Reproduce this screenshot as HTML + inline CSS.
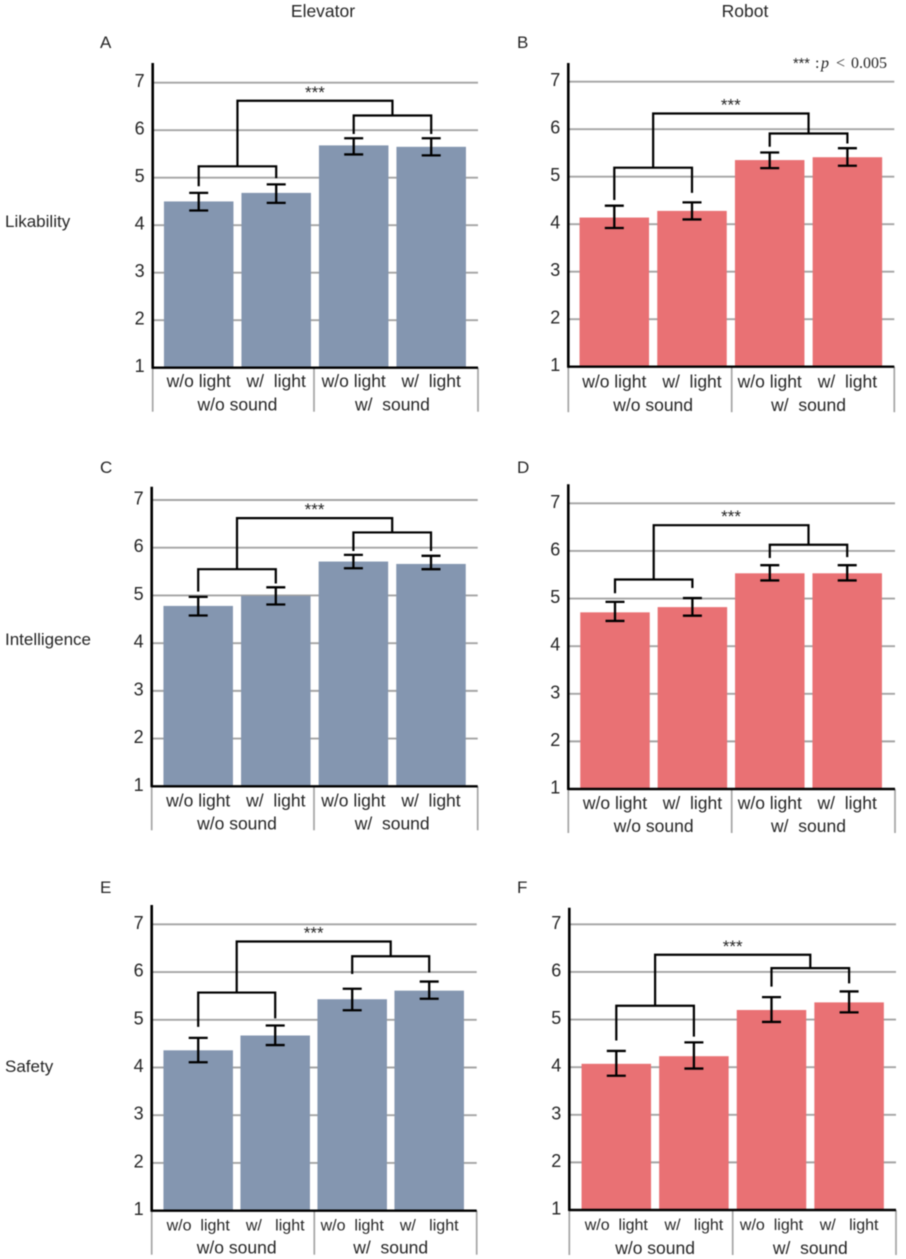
<!DOCTYPE html>
<html lang="en">
<head>
<meta charset="utf-8">
<title>Likability, intelligence and safety ratings</title>
<style>
html,body{margin:0;padding:0;background:#fff;}
svg{display:block;filter:blur(0.45px);}
text{font-family:"Liberation Sans",sans-serif;fill:#262626;white-space:pre;}
</style>
</head>
<body>
<svg id="figure" xmlns="http://www.w3.org/2000/svg" width="906" height="1259" viewBox="0 0 906 1259">
  <rect x="0" y="0" width="906" height="1259" fill="#ffffff"/>
  <text x="323" y="17" font-size="17.5" text-anchor="middle">Elevator</text>
  <text x="745" y="17" font-size="17.5" text-anchor="middle">Robot</text>
  <text x="5" y="227" font-size="17">Likability</text>
  <text x="5" y="645" font-size="17">Intelligence</text>
  <text x="5" y="1072" font-size="17">Safety</text>
  <text y="68" font-size="16" style="font-family:'Liberation Serif',serif"><tspan x="793" font-family="Liberation Sans" font-size="14.5">***</tspan><tspan x="815">:</tspan><tspan x="821" font-style="italic">p</tspan><tspan x="836">&lt;</tspan><tspan x="851">0.005</tspan></text>
</svg>
<script>
// Chart data
const tickLabels = [1, 2, 3, 4, 5, 6, 7];
const categories = ['w/o light', 'w/  light', 'w/o light', 'w/  light'];
const categoriesWide = ['w/o  light', 'w/   light', 'w/o  light', 'w/   light'];
const groupLabels = ['w/o sound', 'w/  sound'];

const meansA = [4.50, 4.68, 5.68, 5.65];
const errHighA = [4.68, 4.86, 5.83, 5.83];
const errLowA = [4.31, 4.47, 5.49, 5.47];
const bracketsA = [6.62, 5.24, 6.31, 4.82, 4.99, 5.92, 5.92];

const meansB = [4.14, 4.28, 5.35, 5.41];
const errHighB = [4.39, 4.46, 5.51, 5.60];
const errLowB = [3.92, 4.10, 5.18, 5.23];
const bracketsB = [6.33, 5.19, 5.91, 4.51, 4.66, 5.63, 5.70];

const meansC = [4.78, 4.99, 5.71, 5.66];
const errHighC = [4.97, 5.17, 5.85, 5.83];
const errLowC = [4.58, 4.81, 5.57, 5.55];
const bracketsC = [6.62, 5.55, 6.32, 5.08, 5.25, 5.93, 5.93];

const meansD = [4.71, 4.82, 5.53, 5.53];
const errHighD = [4.93, 5.01, 5.70, 5.70];
const errLowD = [4.53, 4.64, 5.38, 5.38];
const bracketsD = [6.54, 5.40, 6.13, 5.11, 5.22, 5.85, 5.87];

const meansE = [4.36, 4.67, 5.43, 5.61];
const errHighE = [4.62, 4.88, 5.65, 5.80];
const errLowE = [4.11, 4.47, 5.20, 5.44];
const bracketsE = [6.64, 5.57, 6.33, 4.85, 5.03, 5.96, 5.99];

const meansF = [4.07, 4.23, 5.20, 5.36];
const errHighF = [4.34, 4.52, 5.47, 5.59];
const errLowF = [3.82, 3.97, 4.95, 5.15];
const bracketsF = [6.36, 5.29, 6.08, 4.56, 4.64, 5.69, 5.76];

// Panel layout
const BLUE = '#8496b0';
const RED = '#e97174';
const panels = [
  {id:'a', letter:'A', color:BLUE, means:meansA, hi:errHighA, lo:errLowA, br:bracketsA, cats:categories, catSize:17.5,
   left:152.7, right:478, top:63, y1:367.7, y7:82.7, first:46, step:77.5, sep:314, lx:100, ly:48, lab1:19.5, lab2:43},
  {id:'b', letter:'B', color:RED, means:meansB, hi:errHighB, lo:errLowB, br:bracketsB, cats:categories, catSize:17.5,
   left:568.3, right:894.3, top:63, y1:366.7, y7:81.7, first:46, step:77.7, sep:731.7, lx:517, ly:48, lab1:21, lab2:44.5},
  {id:'c', letter:'C', color:BLUE, means:meansC, hi:errHighC, lo:errLowC, br:bracketsC, cats:categories, catSize:17.5,
   left:151.7, right:477.7, top:486.7, y1:786.3, y7:500, first:46.5, step:77.6, sep:314, lx:100, ly:473, lab1:20, lab2:43},
  {id:'d', letter:'D', color:RED, means:meansD, hi:errHighD, lo:errLowD, br:bracketsD, cats:categories, catSize:17.5,
   left:568.3, right:895, top:484.3, y1:789, y7:503.3, first:46.7, step:77.4, sep:731.7, lx:517, ly:473, lab1:20, lab2:43},
  {id:'e', letter:'E', color:BLUE, means:meansE, hi:errHighE, lo:errLowE, br:bracketsE, cats:categoriesWide, catSize:16,
   left:151.7, right:476.7, top:905, y1:1210.7, y7:924.3, first:46.5, step:77, sep:314.3, lx:100, ly:893, lab1:20, lab2:43},
  {id:'f', letter:'F', color:RED, means:meansF, hi:errHighF, lo:errLowF, br:bracketsF, cats:categoriesWide, catSize:16,
   left:569.3, right:896, top:907.7, y1:1210, y7:924.3, first:47, step:77.6, sep:732.7, lx:517, ly:893, lab1:20, lab2:44}
];

const NS = 'http://www.w3.org/2000/svg';
const svg = document.getElementById('figure');

function mk(parent, tag, attrs, txt) {
  const node = document.createElementNS(NS, tag);
  for (const k in attrs) node.setAttribute(k, attrs[k]);
  if (txt !== undefined) node.textContent = txt;
  parent.appendChild(node);
  return node;
}

function seg(parent, x1, y1, x2, y2, stroke, width) {
  return mk(parent, 'line', {x1: x1, y1: y1, x2: x2, y2: y2, stroke: stroke, 'stroke-width': width});
}

panels.forEach(function (p) {
  const yScale = function (v) { return p.y1 - (v - 1) * (p.y1 - p.y7) / 6; };
  const xScale = function (i) { return p.left + p.first + i * p.step; };
  const barW = 69.5;

  const g = mk(svg, 'g', {});
  
  

  const letter = mk(g, 'text', {x: p.lx, y: p.ly, 'font-size': 17}, p.letter);
  
  

  tickLabels.forEach(function (t) {
    if (t > 1) {
      const grid = seg(g, p.left, yScale(t), p.right, yScale(t), '#a4a4a4', 1.9);
      
      
    }
    const tick = mk(g, 'text', {x: p.left - 8, y: yScale(t) + 4.5, 'font-size': 18, 'text-anchor': 'end'}, String(t));
    
    
  });

  p.means.forEach(function (v, i) {
    const bar = mk(g, 'rect', {x: xScale(i) - barW / 2, y: yScale(v), width: barW, height: p.y1 - yScale(v), fill: p.color});
    
    
  });

  // Group separators beneath the axis
  [p.left, p.sep, p.right].forEach(function (x, i) {
    const s = seg(g, x, p.y1, x, p.y1 + p.lab2 + 1, '#a4a4a4', 1.7);
    
    
  });

  // Axes
  const yAxis = seg(g, p.left, p.top, p.left, p.y1 + 1, '#000', 2.6);
  
  
  const xAxis = seg(g, p.left, p.y1, p.right, p.y1, '#000', 2.4);
  
  

  // Error bars
  p.means.forEach(function (v, i) {
    const x = xScale(i);
    const eg = mk(g, 'g', {});
    
    
    seg(eg, x, yScale(p.hi[i]), x, yScale(p.lo[i]), '#000', 2.3);
    seg(eg, x - 9.5, yScale(p.hi[i]), x + 9.5, yScale(p.hi[i]), '#000', 2.3);
    seg(eg, x - 9.5, yScale(p.lo[i]), x + 9.5, yScale(p.lo[i]), '#000', 2.3);
  });

  // Significance brackets: [outer, left, right, leftEnd1, leftEnd2, rightEnd1, rightEnd2]
  const b = p.br;
  const midL = (xScale(0) + xScale(1)) / 2;
  const midR = (xScale(2) + xScale(3)) / 2;
  const leftBr = mk(g, 'path', {
    d: 'M' + xScale(0) + ' ' + yScale(b[3]) + 'V' + yScale(b[1]) + 'H' + xScale(1) + 'V' + yScale(b[4]),
    fill: 'none', stroke: '#000', 'stroke-width': 2.2
  });
  
  
  const rightBr = mk(g, 'path', {
    d: 'M' + xScale(2) + ' ' + yScale(b[5]) + 'V' + yScale(b[2]) + 'H' + xScale(3) + 'V' + yScale(b[6]),
    fill: 'none', stroke: '#000', 'stroke-width': 2.2
  });
  
  
  const outerBr = mk(g, 'path', {
    d: 'M' + midL + ' ' + yScale(b[1]) + 'V' + yScale(b[0]) + 'H' + midR + 'V' + yScale(b[2]),
    fill: 'none', stroke: '#000', 'stroke-width': 2.2
  });
  
  

  const stars = mk(g, 'text', {x: (midL + midR) / 2, y: yScale(b[0]) - 3, 'font-size': 17, 'text-anchor': 'middle'}, '***');
  
  

  // Category labels
  p.cats.forEach(function (c, i) {
    const lab = mk(g, 'text', {x: xScale(i), y: p.y1 + p.lab1, 'font-size': p.catSize, 'text-anchor': 'middle'}, c);
    
    
  });
  groupLabels.forEach(function (c, i) {
    const cx = i === 0 ? midL : midR;
    const lab = mk(g, 'text', {x: cx, y: p.y1 + p.lab2, 'font-size': 17.5, 'text-anchor': 'middle'}, c);
    
    
  });
});
</script>
</body>
</html>
